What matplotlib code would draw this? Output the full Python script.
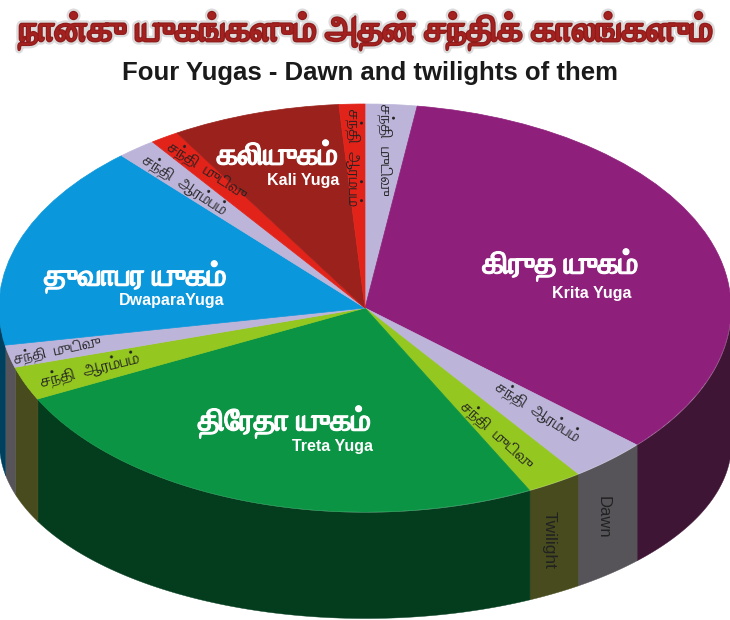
import re
import numpy as np
import matplotlib
matplotlib.use('Agg')
import matplotlib.pyplot as plt
import matplotlib.patheffects as pe

# slice sizes in degrees, clockwise from the top
slice_names = ['Krita dawn top', 'Krita', 'Krita dawn', 'Krita twilight',
               'Treta', 'Treta dawn', 'Treta twilight',
               'Dwapara', 'Dwapara dawn', 'Dwapara twilight',
               'Kali', 'Kali twilight']
slice_values = [8.2, 123.9, 12.4, 8.8, 90.2, 9.6, 6.4, 58.8, 6.2, 4.6, 26.8, 4.1]
top_colors = ['#BDB5D9', '#8E1F7B', '#BDB5D9', '#94C720', '#0A9444', '#94C720', '#BDB5D9',
              '#0B97DC', '#BDB5D9', '#E2231A', '#9A211C', '#E2231A']
side_colors = ['#575459', '#3F1535', '#575459', '#484B1E', '#043D1E', '#484B1E', '#575459',
               '#00405F', '#575459', '#6E1410', '#4D100D', '#6E1410']

title_ta = 'நான்கு யுகங்களும் அதன் சந்திக் காலங்களும்'
title_en = 'Four Yugas - Dawn and twilights of them'
yuga_ta = ['கிருத யுகம்', 'திரேதா யுகம்', 'துவாபர யுகம்', 'கலியுகம்']
yuga_en = ['Krita Yuga', 'Treta Yuga', 'DwaparaYuga', 'Kali Yuga']
sandhi_start = 'சந்தி  ஆரம்பம்'
sandhi_end = 'சந்தி  முடிவு'

W, H = 730, 620
cx, cy, rx, ry = 365, 308, 366, 204
low_cy, low_ry = 443, 175
TAMIL = ['FreeSerif', 'Liberation Sans']
LATIN = ['Liberation Sans', 'DejaVu Sans']

fig = plt.figure(figsize=(W / 100, H / 100), dpi=100, facecolor='white')
ax = fig.add_axes([0, 0, 1, 1])
wedges, _ = ax.pie(slice_values, colors=top_colors, startangle=90, counterclock=False, radius=1)
for w, col in zip(wedges, top_colors):
    w.set_edgecolor(col)
    w.set_linewidth(0.5)
ax.set_aspect('auto')
ax.set_xlim((0 - cx) / rx, (W - cx) / rx)
ax.set_ylim((cy - H) / ry, cy / ry)
ax.axis('off')

# the side of the disc, only the front half shows
ends = np.cumsum(slice_values)
starts = ends - np.array(slice_values)
for a, b, col in zip(starts, ends, side_colors):
    a, b = max(a, 90), min(b, 270)
    if b <= a:
        continue
    t = np.radians(90 - np.linspace(a, b, 80))
    x = np.cos(t)
    top = np.sin(t)
    low = (cy - low_cy - low_ry * np.abs(np.sin(t))) / ry
    ax.fill_between(x, top, low, color=col, linewidth=0.3, zorder=0)


def put(px, py, s, family=TAMIL, **kw):
    # matplotlib does not reorder Tamil, so e/ee/ai signs have to come before their consonant
    s = re.sub('(.)([\u0BC6-\u0BC8])', r'\2\1', s)
    fig.text(px / W, 1 - py / H, s, ha='center', va='center', family=family, **kw)


put(366, 31, title_ta, fontsize=25.8, fontweight='bold', color='#A3211F',
    path_effects=[pe.Stroke(linewidth=5, foreground='#DCDCDC'),
                  pe.Stroke(linewidth=1.6, foreground='#8E1B1A'), pe.Normal()])
put(370, 73, title_en, family=LATIN, fontsize=18.5, fontweight='bold', color='#1A1A1A')

heavy = [pe.Stroke(linewidth=0.8, foreground='white'), pe.Normal()]
yuga_pos = [(560, 265), (284, 422), (135, 277), (277, 157)]
yuga_en_pos = [(592, 293), (333, 446), (172, 300), (303, 180)]
for s, p in zip(yuga_ta, yuga_pos):
    put(p[0], p[1], s, fontsize=22, fontweight='bold', color='white', path_effects=heavy)
for s, p in zip(yuga_en, yuga_en_pos):
    put(p[0], p[1], s, family=LATIN, fontsize=11.5, fontweight='bold', color='white')

put(538, 412, sandhi_start, fontsize=12, rotation=-33, color='#222222')
put(497, 435, sandhi_end, fontsize=12, rotation=-42, color='#222222')
put(90, 370, sandhi_start, fontsize=12.5, rotation=14, color='#222222')
put(58, 350, sandhi_end, fontsize=11.5, rotation=12, color='#222222')
put(185, 185, sandhi_start, fontsize=12, rotation=-33, color='#222222')
put(207, 170, sandhi_end, fontsize=12, rotation=-33, color='#222222')
put(353, 158, sandhi_start, fontsize=12, rotation=-90, color='#222222')
put(385, 150, sandhi_end, fontsize=12, rotation=-90, color='#222222')

put(549, 540, 'Twilight', family=LATIN, fontsize=12.5, rotation=-90, color='#222222')
put(603, 517, 'Dawn', family=LATIN, fontsize=12, rotation=-90, color='#222222')

fig.savefig('out.png', dpi=100)
